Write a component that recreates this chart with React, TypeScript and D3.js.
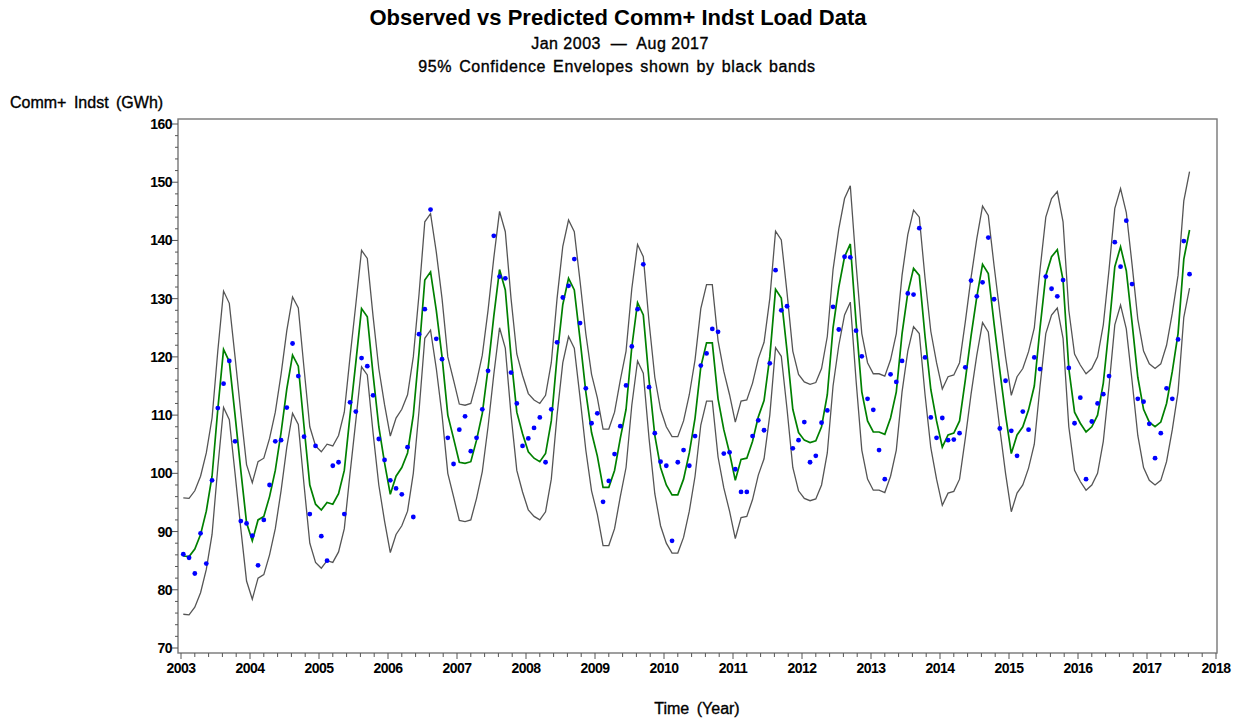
import React from 'react';
import * as d3 from 'd3';

// Monthly observed values, Jan 2003 .. Aug 2017 (GWh)
const observed: number[] = [
  86.1, 85.5, 82.8, 89.7, 84.5, 98.8, 111.2, 115.4, 119.3, 105.5, 91.8, 91.4, // 2003
  89.3, 84.2, 92.0, 98.0, 105.5, 105.7, 111.3, 122.3, 116.7, 106.3, 93.0, 104.7, // 2004
  89.2, 85.0, 101.3, 101.9, 93.0, 112.2, 110.6, 119.8, 118.4, 113.4, 105.9, 102.3, // 2005
  98.8, 97.4, 96.4, 104.5, 92.5, 123.9, 128.2, 145.3, 123.1, 119.6, 106.1, 101.6, // 2006
  107.5, 109.8, 103.8, 106.1, 111.0, 117.6, 140.8, 133.8, 133.5, 117.3, 112.0, 104.7, // 2007
  106.0, 107.8, 109.6, 101.9, 111.0, 122.5, 130.2, 132.2, 136.8, 125.8, 114.6, 108.6, // 2008
  110.3, 95.1, 98.7, 103.3, 108.1, 115.1, 121.8, 128.2, 135.9, 114.8, 106.9, 102.0, // 2009
  101.3, 88.4, 101.9, 104.0, 101.3, 106.4, 118.5, 120.6, 124.8, 124.3, 103.4, 103.6, // 2010
  100.7, 96.8, 96.8, 106.4, 109.1, 107.4, 118.9, 134.9, 128.0, 128.7, 104.3, 105.7, // 2011
  108.8, 101.9, 103.0, 108.7, 110.8, 128.6, 124.7, 137.2, 137.1, 124.5, 120.1, 112.8, // 2012
  110.9, 104.0, 99.0, 117.0, 115.7, 119.3, 130.9, 130.7, 142.1, 119.9, 109.6, 106.1, // 2013
  109.5, 105.7, 105.8, 106.9, 118.2, 133.1, 130.4, 132.8, 140.5, 129.9, 107.7, 115.9, // 2014
  107.3, 103.0, 110.6, 107.5, 119.9, 117.9, 133.8, 131.7, 130.4, 133.2, 118.1, 108.6, // 2015
  113.0, 99.0, 108.9, 112.0, 113.6, 116.7, 139.7, 135.5, 143.4, 132.5, 112.8, 112.3, // 2016
  108.5, 102.6, 106.9, 114.6, 112.8, 123.0, 139.9, 134.2, // 2017
];

// Model predictions
const predicted: number[] = [
  85.8, 85.7, 87.0, 89.5, 93.5, 99.5, 111.0, 121.3, 119.2, 110.0, 100.5, 91.5,
  88.4, 92.0, 92.6, 96.0, 100.5, 107.0, 114.5, 120.3, 118.4, 108.0, 98.0, 94.7,
  93.7, 95.0, 94.7, 96.5, 100.5, 110.0, 119.0, 128.3, 126.9, 117.0, 108.0, 101.8,
  96.4, 99.5, 101.0, 103.5, 110.0, 120.8, 133.2, 134.6, 128.0, 120.0, 110.0, 106.0,
  101.9, 101.7, 102.0, 105.7, 110.3, 118.0, 127.0, 135.0, 131.5, 120.0, 110.5, 106.8,
  103.7, 102.6, 102.0, 103.4, 109.0, 120.0, 129.0, 133.5, 131.5, 123.0, 114.0, 107.0,
  103.0, 97.6, 97.6, 100.5, 106.0, 111.0, 121.7, 129.3, 127.2, 116.0, 106.5, 101.0,
  98.0, 96.3, 96.3, 99.0, 103.5, 109.5, 118.3, 122.4, 122.4, 112.8, 107.5, 103.5,
  98.8, 102.4, 102.6, 105.5, 109.7, 112.5, 120.0, 131.6, 130.1, 121.0, 111.0, 107.0,
  105.7, 105.3, 105.6, 108.0, 113.5, 125.0, 132.0, 137.2, 139.4, 126.0, 114.0, 109.0,
  107.1, 107.1, 106.7, 109.5, 114.0, 124.0, 131.0, 135.2, 134.0, 123.5, 114.4, 109.0,
  104.5, 106.6, 106.9, 109.0, 116.0, 123.6, 130.3, 135.9, 134.3, 125.7, 117.7, 110.0,
  103.4, 106.6, 108.0, 110.9, 115.0, 125.0, 134.0, 137.2, 138.4, 133.2, 118.0, 110.5,
  108.6, 107.1, 108.0, 110.0, 115.5, 125.0, 135.5, 138.9, 134.8, 125.9, 116.5, 111.0,
  108.8, 108.0, 108.8, 112.0, 117.5, 124.0, 136.8, 141.8,
];

// Upper 95% confidence envelope
const upper: number[] = [
  95.8, 95.7, 97.0, 99.5, 103.5, 109.5, 121.0, 131.3, 129.2, 120.0, 110.5, 101.5,
  98.4, 102.0, 102.6, 106.0, 110.5, 117.0, 124.5, 130.3, 128.4, 118.0, 108.0, 104.7,
  103.7, 105.0, 104.7, 106.5, 110.5, 120.0, 129.0, 138.3, 136.9, 127.0, 118.0, 111.8,
  106.4, 109.5, 111.0, 113.5, 120.0, 130.8, 143.2, 144.6, 138.0, 130.0, 120.0, 116.0,
  111.9, 111.7, 112.0, 115.7, 120.3, 128.0, 137.0, 145.0, 141.5, 130.0, 120.5, 116.8,
  113.7, 112.6, 112.0, 113.4, 119.0, 130.0, 139.0, 143.5, 141.5, 133.0, 124.0, 117.0,
  113.0, 107.6, 107.6, 110.5, 116.0, 121.0, 131.7, 139.3, 137.2, 126.0, 116.5, 111.0,
  108.0, 106.3, 106.3, 109.0, 113.5, 119.5, 128.3, 132.4, 132.4, 122.8, 117.5, 113.5,
  108.8, 112.4, 112.6, 115.5, 119.7, 122.5, 130.0, 141.6, 140.1, 131.0, 121.0, 117.0,
  115.7, 115.3, 115.6, 118.0, 123.5, 135.0, 142.0, 147.2, 149.4, 136.0, 124.0, 119.0,
  117.1, 117.1, 116.7, 119.5, 124.0, 134.0, 141.0, 145.2, 144.0, 133.5, 124.4, 119.0,
  114.5, 116.6, 116.9, 119.0, 126.0, 133.6, 140.3, 145.9, 144.3, 135.7, 127.7, 120.0,
  113.4, 116.6, 118.0, 120.9, 125.0, 135.0, 144.0, 147.2, 148.4, 143.2, 128.0, 120.5,
  118.6, 117.1, 118.0, 120.0, 125.5, 135.0, 145.5, 148.9, 144.8, 135.9, 126.5, 121.0,
  118.8, 118.0, 118.8, 122.0, 127.5, 134.0, 146.8, 151.8,
];

// Lower 95% confidence envelope
const lower: number[] = [
  75.8, 75.7, 77.0, 79.5, 83.5, 89.5, 101.0, 111.3, 109.2, 100.0, 90.5, 81.5,
  78.4, 82.0, 82.6, 86.0, 90.5, 97.0, 104.5, 110.3, 108.4, 98.0, 88.0, 84.7,
  83.7, 85.0, 84.7, 86.5, 90.5, 100.0, 109.0, 118.3, 116.9, 107.0, 98.0, 91.8,
  86.4, 89.5, 91.0, 93.5, 100.0, 110.8, 123.2, 124.6, 118.0, 110.0, 100.0, 96.0,
  91.9, 91.7, 92.0, 95.7, 100.3, 108.0, 117.0, 125.0, 121.5, 110.0, 100.5, 96.8,
  93.7, 92.6, 92.0, 93.4, 99.0, 110.0, 119.0, 123.5, 121.5, 113.0, 104.0, 97.0,
  93.0, 87.6, 87.6, 90.5, 96.0, 101.0, 111.7, 119.3, 117.2, 106.0, 96.5, 91.0,
  88.0, 86.3, 86.3, 89.0, 93.5, 99.5, 108.3, 112.4, 112.4, 102.8, 97.5, 93.5,
  88.8, 92.4, 92.6, 95.5, 99.7, 102.5, 110.0, 121.6, 120.1, 111.0, 101.0, 97.0,
  95.7, 95.3, 95.6, 98.0, 103.5, 115.0, 122.0, 127.2, 129.4, 116.0, 104.0, 99.0,
  97.1, 97.1, 96.7, 99.5, 104.0, 114.0, 121.0, 125.2, 124.0, 113.5, 104.4, 99.0,
  94.5, 96.6, 96.9, 99.0, 106.0, 113.6, 120.3, 125.9, 124.3, 115.7, 107.7, 100.0,
  93.4, 96.6, 98.0, 100.9, 105.0, 115.0, 124.0, 127.2, 128.4, 123.2, 108.0, 100.5,
  98.6, 97.1, 98.0, 100.0, 105.5, 115.0, 125.5, 128.9, 124.8, 115.9, 106.5, 101.0,
  98.8, 98.0, 98.8, 102.0, 107.5, 114.0, 126.8, 131.8,
];

const startYear = 2003;
const xTickYears: number[] = d3.range(2003, 2019);
const yTickValues: number[] = d3.range(70, 161, 10);

const W = 1242;
const H = 721;
const frame = { left: 178, right: 1217, top: 119, bottom: 653 };

export default function App() {
  const x = d3.scaleLinear().domain([2003, 2018]).range([181, 1216]);
  const y = d3.scaleLinear().domain([70, 160]).range([648, 124]);
  const tx = (i: number) => x(startYear + (i + 0.4) / 12);

  const line = d3
    .line<number>()
    .x((_, i) => tx(i))
    .y((d) => y(d));

  const minorX = d3.range(2003, 2018.001, 0.2).filter((v) => Math.abs(v - Math.round(v)) > 1e-6);
  const minorY = d3.range(70, 160.001, 2).filter((v) => v % 10 !== 0);

  const font = "'Liberation Sans', Arial, sans-serif";

  return (
    <div style={{ position: 'fixed', left: 0, top: 0, width: W, height: H, background: '#fff' }}>
      <svg width={W} height={H} style={{ display: 'block' }} fontFamily={font}>
        <rect x={0} y={0} width={W} height={H} fill="#fff" />
        {/* Titles */}
        <text x={618} y={25} textAnchor="middle" fontSize={22} fontWeight="bold" fill="#000">
          Observed vs Predicted Comm+ Indst Load Data
        </text>
        <text x={620} y={49} textAnchor="middle" fontSize={16} fill="#000" stroke="#000" strokeWidth={0.35} letterSpacing={0.5} style={{ whiteSpace: 'pre' }}>
          {'Jan 2003  \u2014  Aug 2017'}
        </text>
        <text x={617} y={72} textAnchor="middle" fontSize={16} fill="#000" stroke="#000" strokeWidth={0.35} letterSpacing={0.6} wordSpacing={2}>
          95% Confidence Envelopes shown by black bands
        </text>
        {/* Y axis label */}
        <text x={10} y={108} fontSize={16} fill="#000" stroke="#000" strokeWidth={0.35} wordSpacing={3}>
          Comm+ Indst (GWh)
        </text>

        {/* Frame */}
        <rect
          x={frame.left}
          y={frame.top}
          width={frame.right - frame.left}
          height={frame.bottom - frame.top}
          fill="none"
          stroke="#777"
          strokeWidth={1.4}
        />

        {/* Y ticks */}
        {yTickValues.map((v) => (
          <g key={'y' + v}>
            <line x1={frame.left - 6} x2={frame.left} y1={y(v)} y2={y(v)} stroke="#555" />
            <text x={frame.left - 6} y={y(v) + 5} textAnchor="end" fontSize={14} fontWeight="bold" fill="#000" letterSpacing={-0.5}>
              {v}
            </text>
          </g>
        ))}
        {minorY.map((v) => (
          <line key={'my' + v} x1={frame.left - 3} x2={frame.left} y1={y(v)} y2={y(v)} stroke="#555" />
        ))}

        {/* X ticks */}
        {xTickYears.map((v) => (
          <g key={'x' + v}>
            <line x1={x(v)} x2={x(v)} y1={frame.bottom} y2={frame.bottom + 6} stroke="#555" />
            <text x={x(v)} y={frame.bottom + 20} textAnchor="middle" fontSize={14} fontWeight="bold" fill="#000" letterSpacing={-0.5}>
              {v}
            </text>
          </g>
        ))}
        {minorX.map((v, k) => (
          <line key={'mx' + k} x1={x(v)} x2={x(v)} y1={frame.bottom} y2={frame.bottom + 4} stroke="#555" />
        ))}

        <text x={697} y={714} textAnchor="middle" fontSize={16} fill="#000" stroke="#000" strokeWidth={0.35} wordSpacing={3}>
          Time (Year)
        </text>

        {/* Confidence envelopes */}
        <path d={line(upper) || ''} fill="none" stroke="#555" strokeWidth={1.3} />
        <path d={line(lower) || ''} fill="none" stroke="#555" strokeWidth={1.3} />
        {/* Predicted */}
        <path d={line(predicted) || ''} fill="none" stroke="#008000" strokeWidth={1.7} />
        {/* Observed */}
        {observed.map((v, i) => (
          <circle key={'o' + i} cx={tx(i)} cy={y(v)} r={2.4} fill="#0000ff" />
        ))}
      </svg>
    </div>
  );
}
